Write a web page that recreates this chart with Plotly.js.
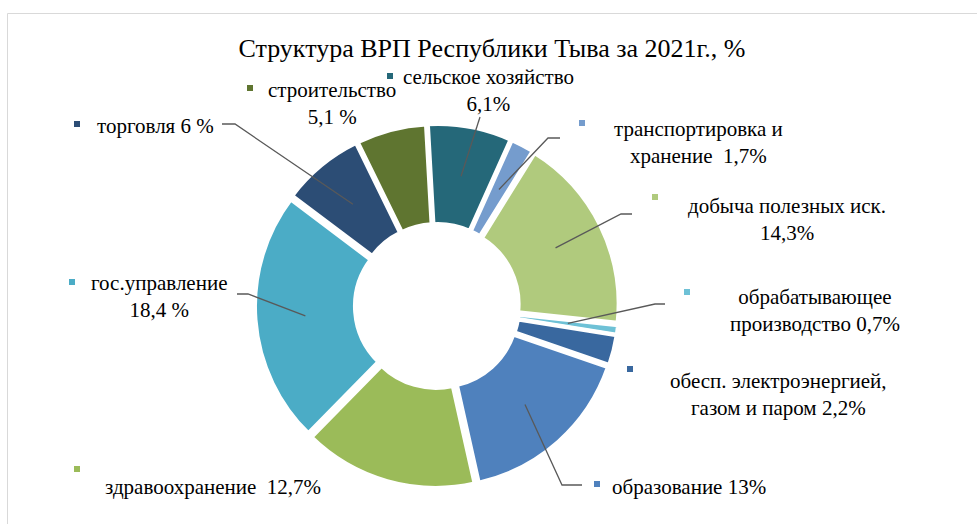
<!DOCTYPE html>
<html>
<head>
<meta charset="utf-8">
<script src="https://cdn.plot.ly/plotly-3.0.1.min.js"></script>
<style>html,body{margin:0;padding:0;background:#fff;}#chart{width:977px;height:524px;}</style>
</head>
<body>
<div id="chart"></div>
<script>
// ---- data ----
const categories = ['сельское хозяйство','транспортировка и хранение','добыча полезных иск.','обрабатывающее производство','обесп. электроэнергией, газом и паром','образование','здравоохранение','гос.управление','торговля','строительство'];
const values = [6.1, 1.7, 14.3, 0.7, 2.2, 13, 12.7, 18.4, 6, 5.1];
const labelTexts = ['сельское хозяйство<br>6,1%','транспортировка и<br>хранение  1,7%','добыча полезных иск.<br>14,3%','обрабатывающее<br>производство 0,7%','обесп. электроэнергией,<br>газом и паром 2,2%','образование 13%','здравоохранение  12,7%','гос.управление<br>18,4 %','торговля 6 %','строительство<br>5,1 %'];
const colors = ['#256879','#759CCD','#B0CA7D','#6EC1D6','#39689F','#4F81BD','#9BBB59','#4BACC6','#2C4D75','#5F7530'];

// ---- layout helpers (pixel positions) ----
const W = 977, H = 524;
const CX = 437, CY = 306, ROT = -3.2, RMID = 132;
const labelPos = [[489,91],[698,143],[787,220],[815,310],[778,394],[689,487],[213,487],[159,296],[155,126],[332,103]];
const squarePos = [[390,76],[582,123],[655,197],[687,292],[630,369],[597,484],[77,469],[72,282],[77,124],[250,88]];
// leader: [startX,startY,elbowX,elbowY] or null
const leaders = [[480,117,480,117],[560,138,548,138],[632,214,621,214],[665,304,655,304],null,[582,485,562,485],null,[237,294,248,294],[222,124,235,124],null];

const px = x => x / W, py = y => 1 - y / H;
const total = values.reduce((a,b)=>a+b,0);
const FONT = 'Liberation Serif, Times New Roman, serif';

const shapes = [];
const annotations = [];
// chart border
shapes.push({type:'rect', xref:'paper', yref:'paper', x0:px(7.5), y0:py(13.5), x1:px(990), y1:py(540), line:{color:'#d9d9d9', width:1}, fillcolor:'rgba(0,0,0,0)'});

let cum = 0;
values.forEach((v,i)=>{
  const ang = (ROT + 360*(cum + v/2)/total) * Math.PI/180;
  cum += v;
  const ex = CX + RMID*Math.sin(ang), ey = CY - RMID*Math.cos(ang);
  const L = leaders[i];
  if (L) {
    shapes.push({type:'path', xref:'paper', yref:'paper',
      path:`M ${px(L[0])} ${py(L[1])} L ${px(L[2])} ${py(L[3])} L ${px(ex)} ${py(ey)}`,
      line:{color:'#595959', width:1.3}});
  }
  const s = squarePos[i];
  shapes.push({type:'rect', xref:'paper', yref:'paper', x0:px(s[0]-3), x1:px(s[0]+3), y0:py(s[1]-3), y1:py(s[1]+3), line:{width:0}, fillcolor:colors[i]});
  const p = labelPos[i];
  annotations.push({xref:'paper', yref:'paper', x:px(p[0]), y:py(p[1]), xanchor:'center', yanchor:'middle', align:'center', showarrow:false, text:labelTexts[i], font:{family:FONT, size:21, color:'#000'}});
});

const R = 177.6, PULL = 0.025;
const D = R*(2+2*PULL)/2;
const trace = {
  type:'pie', labels:categories, values:values, sort:false, direction:'clockwise', rotation:ROT,
  hole:0.437, pull:values.map(()=>PULL), textinfo:'none', hoverinfo:'label+value',
  marker:{colors:colors, line:{color:'#ffffff', width:4}},
  domain:{x:[px(CX-D), px(CX+D)], y:[py(CY+D), py(CY-D)]},
  showlegend:false
};

const layout = {
  width:W, height:H, margin:{l:0,r:0,t:0,b:0}, paper_bgcolor:'#fff', showlegend:false,
  title:{text:'Структура ВРП Республики Тыва за 2021г., %', x:492/W, xanchor:'center', y:py(48), yanchor:'middle', yref:'container', font:{family:FONT, size:26, color:'#000'}},
  shapes:shapes, annotations:annotations
};
Plotly.newPlot('chart',[trace],layout,{displayModeBar:false, staticPlot:true});
</script>
</body>
</html>
